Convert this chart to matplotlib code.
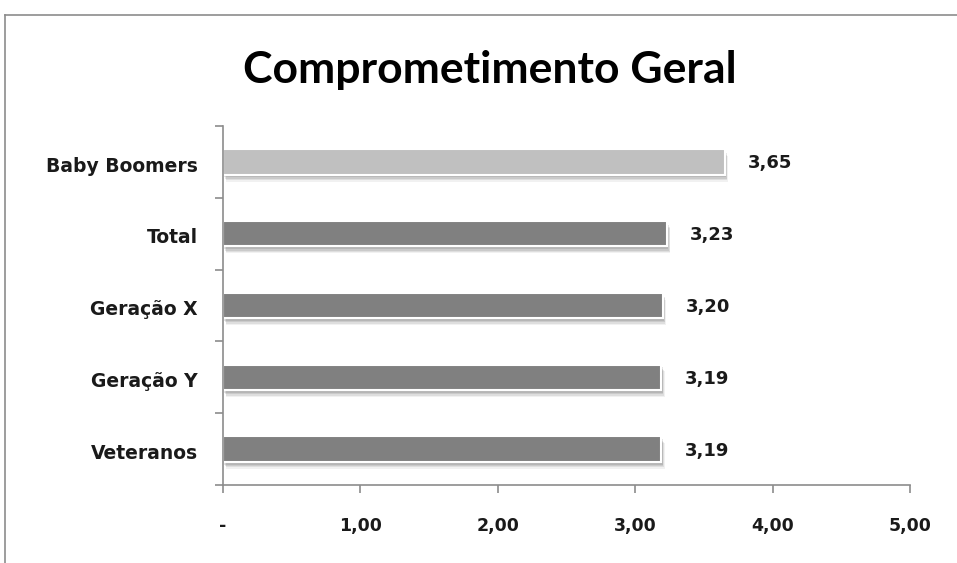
import matplotlib
matplotlib.use("Agg")
import matplotlib.pyplot as plt
import matplotlib.patheffects as pe
from matplotlib.lines import Line2D

plt.rcParams['font.family'] = ['DejaVu Sans']

categories = ["Baby Boomers", "Total", "Geração X", "Geração Y", "Veteranos"]
values = [3.65, 3.23, 3.20, 3.19, 3.19]
bar_colors = ["#c0c0c0", "#808080", "#808080", "#808080", "#808080"]
xticks = [0, 1, 2, 3, 4, 5]
xtick_labels = ["-", "1,00", "2,00", "3,00", "4,00", "5,00"]
title = "Comprometimento Geral"

W, H = 957, 563
fig = plt.figure(figsize=(W / 100, H / 100), dpi=100)
fig.patch.set_facecolor("white")

# chart-area frame (top and left edges visible)
fig.add_artist(Line2D([5 / W, 5 / W], [0, 1 - 15 / H], transform=fig.transFigure,
                      color="#8c8c8c", lw=1.2))
fig.add_artist(Line2D([5 / W, 1], [1 - 15 / H, 1 - 15 / H], transform=fig.transFigure,
                      color="#8c8c8c", lw=1.2))

ax = fig.add_axes([223 / W, 1 - 485 / H, (910 - 223) / W, (485 - 126) / H])

n = len(categories)
ypos = list(range(n))[::-1]
# soft drop shadow built from a few faint offset layers
shadow = [pe.SimplePatchShadow(offset=(o * 0.5, -o), shadow_rgbFace="#404040", alpha=a)
          for o, a in [(5.0, 0.07), (4.0, 0.10), (3.0, 0.12), (2.0, 0.14)]]
shadow.append(pe.Normal())
bars = ax.barh(ypos, values, height=0.355, color=bar_colors, edgecolor="white",
               linewidth=1.5)
for b in bars:
    b.set_path_effects(shadow)

for y, v in zip(ypos, values):
    ax.text(v + 0.17, y - 0.02, f"{v:.2f}".replace(".", ","), va="center", ha="left",
            fontsize=13, fontweight="bold", color="#1a1a1a")

ax.set_xlim(0, 5)
ax.set_ylim(-0.5, n - 0.5)
ax.set_xticks(xticks)
ax.set_xticklabels(xtick_labels, fontsize=12.5, fontweight="bold", color="#1a1a1a")
ax.set_yticks([y - 0.03 for y in ypos])
ax.set_yticklabels(categories, fontsize=13.5, fontweight="bold", color="#1a1a1a")
ax.set_yticks([i - 0.5 for i in range(n + 1)], minor=True)

ax.tick_params(axis="y", which="major", length=0, pad=18)
ax.tick_params(axis="y", which="minor", length=6, color="#8c8c8c", width=1.2)
ax.tick_params(axis="x", which="major", length=6, color="#8c8c8c", width=1.2,
               direction="out", pad=17)

for s in ["top", "right"]:
    ax.spines[s].set_visible(False)
for s in ["left", "bottom"]:
    ax.spines[s].set_color("#8c8c8c")
    ax.spines[s].set_linewidth(1.2)

fig.text(490 / W, 1 - 70 / H, title, ha="center", va="center", fontsize=32,
         fontweight="bold", color="black", family=["Lato", "DejaVu Sans"])

fig.savefig("out.png", dpi=100, facecolor="white")
